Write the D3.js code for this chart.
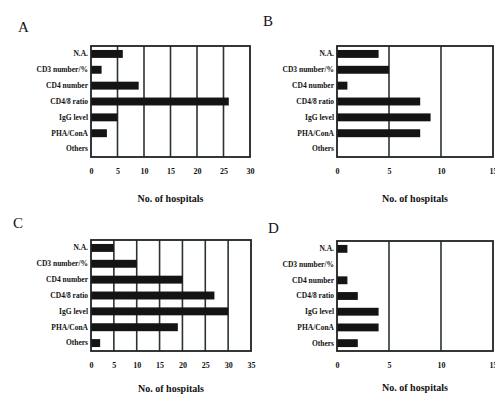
<!DOCTYPE html>
<html>
<head>
<meta charset="utf-8">
<script src="https://cdn.jsdelivr.net/npm/d3@7"></script>
<style>
  body { margin: 0; background: #fff; }
  svg text { font-family: "Liberation Serif", "DejaVu Serif", serif; fill: #111; }
</style>
</head>
<body>
<div id="chart"></div>
<script>
// categories (top to bottom)
var categories = ["N.A.", "CD3 number/%", "CD4 number", "CD4/8 ratio", "IgG level", "PHA/ConA", "Others"];

// No. of hospitals per panel
var valuesA = [6, 2, 9, 26, 5, 3, 0];
var valuesB = [4, 5, 1, 8, 9, 8, 0];
var valuesC = [5, 10, 20, 27, 30, 19, 2];
var valuesD = [1, 0, 1, 2, 4, 4, 2];

var ticksA = [0, 5, 10, 15, 20, 25, 30];
var ticksB = [0, 5, 10, 15];
var ticksC = [0, 5, 10, 15, 20, 25, 30, 35];
var ticksD = [0, 5, 10, 15];

var panels = [
  { letter: "A", values: valuesA, ticks: ticksA, x0: 91, x1: 250, y0: 46, y1: 157, lx: 18, ly: 32, ty: 202 },
  { letter: "B", values: valuesB, ticks: ticksB, x0: 337, x1: 493, y0: 46, y1: 157, lx: 263, ly: 26, ty: 202 },
  { letter: "C", values: valuesC, ticks: ticksC, x0: 91, x1: 251, y0: 240, y1: 351, lx: 13, ly: 228, ty: 392 },
  { letter: "D", values: valuesD, ticks: ticksD, x0: 337, x1: 493, y0: 241, y1: 351, lx: 268, ly: 233, ty: 391 }
];

var svg = d3.select("#chart").append("svg")
  .attr("width", 495)
  .attr("height", 396);

panels.forEach(function (p) {
  var g = svg.append("g");

  var x = d3.scaleLinear()
    .domain([0, d3.max(p.ticks)])
    .range([p.x0, p.x1]);

  var y = d3.scaleBand()
    .domain(categories)
    .range([p.y0, p.y1])
    .paddingInner(0.5)
    .paddingOuter(0.25);

  // vertical grid lines
  g.selectAll("line.grid")
    .data(p.ticks.slice(1, -1))
    .enter().append("line")
    .attr("class", "grid")
    .attr("x1", function (d) { return x(d); })
    .attr("x2", function (d) { return x(d); })
    .attr("y1", p.y0)
    .attr("y2", p.y1)
    .attr("stroke", "#2a3333")
    .attr("stroke-width", 1.6);

  // bars
  g.selectAll("rect.bar")
    .data(p.values)
    .enter().append("rect")
    .attr("class", "bar")
    .attr("x", x(0))
    .attr("y", function (d, i) { return y(categories[i]); })
    .attr("width", function (d) { return x(d) - x(0); })
    .attr("height", y.bandwidth())
    .attr("fill", "#141414");

  // frame
  g.append("rect")
    .attr("x", p.x0)
    .attr("y", p.y0)
    .attr("width", p.x1 - p.x0)
    .attr("height", p.y1 - p.y0)
    .attr("fill", "none")
    .attr("stroke", "#1e2222")
    .attr("stroke-width", 1.8);

  // x tick labels
  var xAxis = d3.axisBottom(x).tickValues(p.ticks).tickSize(0).tickPadding(0);
  var ax = g.append("g")
    .attr("transform", "translate(0," + (p.y1 + 11) + ")")
    .call(xAxis);
  ax.select(".domain").remove();
  ax.selectAll("text")
    .attr("font-family", "'Liberation Serif', serif")
    .attr("font-size", 8)
    .attr("font-weight", "bold")
    .attr("fill", "#111");

  // category labels
  var ay = g.append("g")
    .attr("transform", "translate(" + (p.x0 - 3) + ",0)")
    .call(d3.axisLeft(y).tickSize(0).tickPadding(0));
  ay.select(".domain").remove();
  ay.selectAll("text")
    .attr("font-family", "'Liberation Serif', serif")
    .attr("font-size", 7.5)
    .attr("font-weight", "bold")
    .attr("fill", "#111");

  // axis title
  g.append("text")
    .attr("x", (p.x0 + p.x1) / 2)
    .attr("y", p.ty)
    .attr("text-anchor", "middle")
    .attr("font-size", 10)
    .attr("font-weight", "bold")
    .text("No. of hospitals");

  // panel letter
  g.append("text")
    .attr("x", p.lx)
    .attr("y", p.ly)
    .attr("font-family", "'Liberation Sans', sans-serif")
    .attr("font-size", 15)
    .text(p.letter);
});
</script>
</body>
</html>
